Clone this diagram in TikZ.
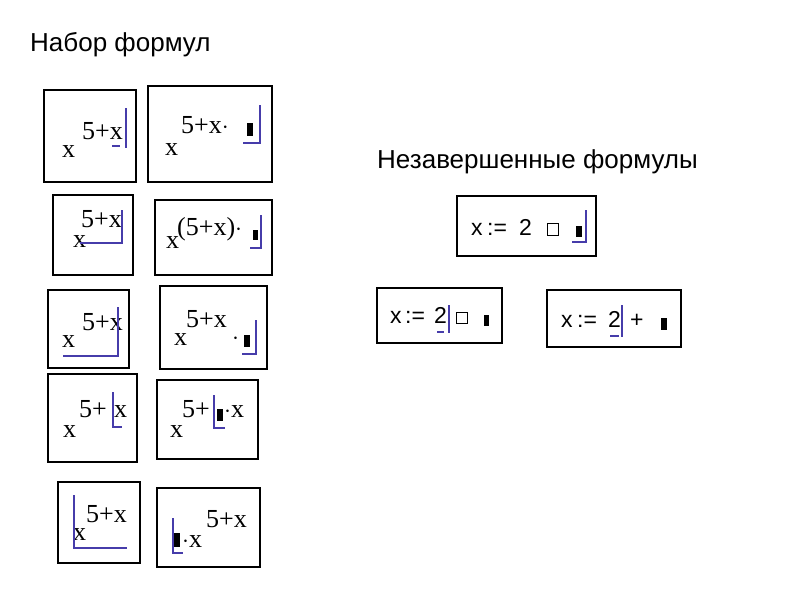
\documentclass[tikz,border=0pt]{standalone}
\usepackage{fontspec}
\setmainfont{Liberation Sans}
\newfontfamily\fser{Liberation Serif}
\definecolor{cb}{RGB}{70,60,170}
\tikzset{
 box/.style={draw, line width=1.6pt},
 cur/.style={draw=cb, line width=1.4pt},
 blk/.style={fill=black},
 hol/.style={draw=black, line width=0.9pt},
 f/.style={anchor=base west, inner sep=0pt, font=\fser\fontsize{26}{26}\selectfont},
 g/.style={anchor=base west, inner sep=0pt, font=\fontsize{23}{23}\selectfont},
 ttl/.style={anchor=base west, inner sep=0pt, font=\fontsize{26}{26}\selectfont}
}
\begin{document}
\begin{tikzpicture}[x=1pt,y=-1pt]
\useasboundingbox[fill=white] (0,0) rectangle (800,600);
\node[ttl] (t1) at (30,51) {Набор формул};
\node[ttl] (t2) at (377,168) {Незавершенные формулы};
% box 1
\draw[box] (44,90) rectangle (136,182);
\node[f] (a1) at (62,157) {x};
\node[f] (a2) at (82,139) {5+x};
\draw[cur] (126,108) -- (126,148) (112,146) -- (120,146);
% box 2
\draw[box] (148,86) rectangle (272,182);
\node[f] (b1) at (165,155) {x};
\node[f] (b2) at (181,133) {5+x$\cdot$};
\fill[blk] (247,123) rectangle (253,136);
\draw[cur] (260,105) -- (260,143) -- (243,143);
% box 3
\draw[box] (53,195) rectangle (133,275);
\node[f] (c1) at (73,247) {x};
\node[f] (c2) at (81,227) {5+x};
\draw[cur] (122,210) -- (122,243) -- (80,243);
% box 4
\draw[box] (155,200) rectangle (272,275);
\node[f] (d1) at (166,248) {x};
\node[f] (d2) at (177,235) {(5+x)$\cdot$};
\fill[blk] (253,230) rectangle (258,240);
\draw[cur] (261,215) -- (261,248) -- (250,248);
% box 5
\draw[box] (48,290) rectangle (129,368);
\node[f] (e1) at (62,347) {x};
\node[f] (e2) at (82,330) {5+x};
\draw[cur] (118,307) -- (118,356) -- (63,356);
% box 6
\draw[box] (160,286) rectangle (267,369);
\node[f] (h1) at (174,345) {x};
\node[f] (h2) at (186,327) {5+x};
\node[f] (h3) at (232,344) {$\cdot$};
\fill[blk] (244,335) rectangle (250,347);
\draw[cur] (256,320) -- (256,354) -- (242,354);
% box 7
\draw[box] (48,374) rectangle (137,462);
\node[f] (i1) at (63,437) {x};
\node[f] (i2) at (79,417) {5+};
\node[f] (i3) at (114,417) {x};
\draw[cur] (113,392) -- (113,427) -- (122,427);
% box 8
\draw[box] (157,380) rectangle (258,459);
\node[f] (j1) at (170,437) {x};
\node[f] (j2) at (182,417) {5+};
\fill[blk] (217,409) rectangle (223,421);
\node[f] (j3) at (224,417) {$\cdot$x};
\draw[cur] (214,395) -- (214,428) -- (225,428);
% box 9
\draw[box] (58,482) rectangle (140,563);
\node[f] (k1) at (73,540) {x};
\node[f] (k2) at (86,522) {5+x};
\draw[cur] (74,495) -- (74,548) -- (127,548);
% box 10
\draw[box] (157,488) rectangle (260,567);
\fill[blk] (174,533) rectangle (180,547);
\draw[cur] (173,518) -- (173,553) -- (183,553);
\node[f] (l1) at (182,547) {$\cdot$x};
\node[f] (l2) at (206,527) {5+x};
% box A
\draw[box] (457,196) rectangle (596,256);
\node[g] (m1) at (471,235) {x};
\node[g] (m2) at (487,235) {:=};
\node[g] (m3) at (519,235) {2};
\draw[hol] (547,223) rectangle (558,235);
\fill[blk] (576,226) rectangle (582,237);
\draw[cur] (586,210) -- (586,242) -- (572,242);
% box B
\draw[box] (377,288) rectangle (502,343);
\node[g] (o1) at (390,323) {x};
\node[g] (o2) at (405,323) {:=};
\node[g] (o3) at (434,323) {2};
\draw[cur] (437,332) -- (444,332) (449,305) -- (449,333);
\draw[hol] (456,312) rectangle (467,323);
\fill[blk] (484,315) rectangle (489,326);
% box C
\draw[box] (547,290) rectangle (681,347);
\node[g] (p1) at (561,327) {x};
\node[g] (p2) at (577,327) {:=};
\node[g] (p3) at (608,327) {2};
\node[g] (p4) at (630,327) {+};
\draw[cur] (610,336) -- (619,336) (622,305) -- (622,337);
\fill[blk] (661,318) rectangle (667,330);
\end{tikzpicture}
\end{document}
